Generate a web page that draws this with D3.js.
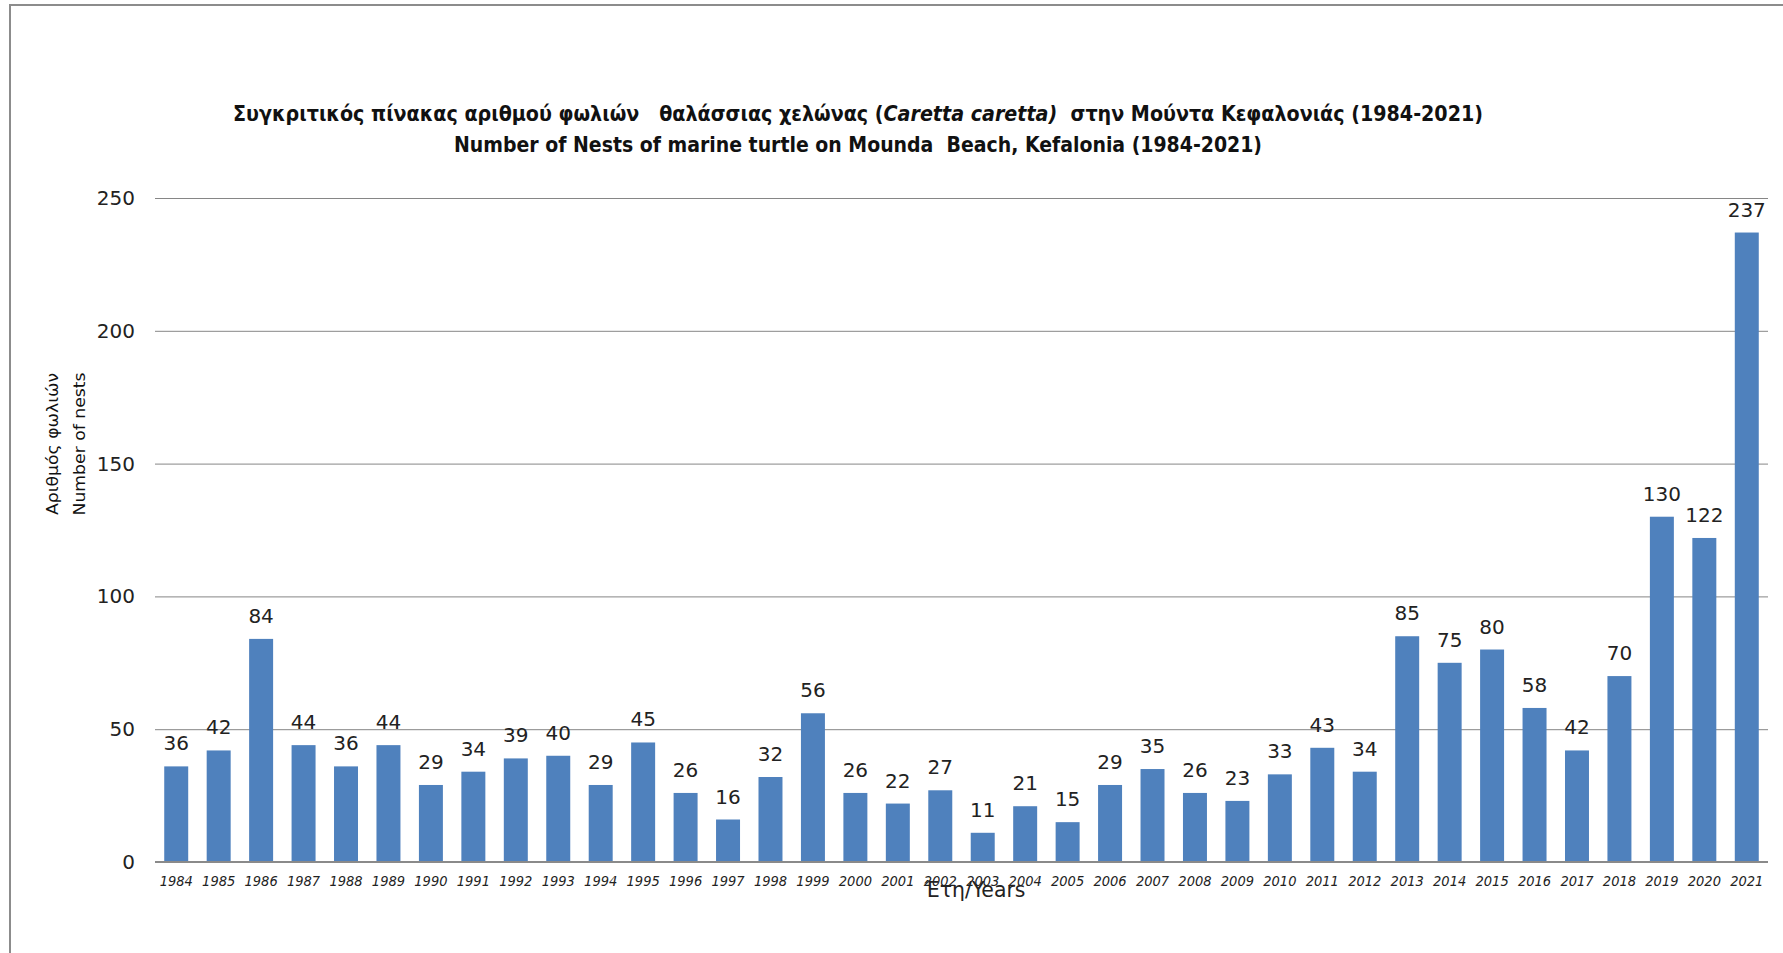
<!DOCTYPE html>
<html>
<head>
<meta charset="utf-8">
<script src="https://cdn.jsdelivr.net/npm/d3@7"></script>
<style>
  body { margin: 0; background: #fff; }
  svg { display: block; }
</style>
</head>
<body>
<div id="chart"></div>
<script>
var years = ["1984","1985","1986","1987","1988","1989","1990","1991","1992","1993",
  "1994","1995","1996","1997","1998","1999","2000","2001","2002","2003","2004","2005",
  "2006","2007","2008","2009","2010","2011","2012","2013","2014","2015","2016","2017",
  "2018","2019","2020","2021"];
var nests = [36,42,84,44,36,44,29,34,39,40,29,45,26,16,32,56,26,22,27,11,21,15,
  29,35,26,23,33,43,34,85,75,80,58,42,70,130,122,237];
var yTicks = [0,50,100,150,200,250];

var W = 1783, H = 953;
var cond = "'DejaVu Sans Condensed', 'DejaVu Sans', sans-serif";

var svg = d3.select("#chart").append("svg")
  .attr("width", W)
  .attr("height", H)
  .style("background", "#fff");

// outer frame (top and left edges visible)
svg.append("path")
  .attr("d", "M10," + H + "V5H" + W)
  .attr("fill", "none")
  .attr("stroke", "#8c8c8c")
  .attr("stroke-width", 2);

var x = d3.scaleBand().domain(years).range([155, 1768])
  .paddingInner(0.435).paddingOuter(0.2175);
var y = d3.scaleLinear().domain([0, 250]).range([862, 198]);

// gridlines + y labels
var yAxis = d3.axisLeft(y).tickValues(yTicks).tickSize(-(1768 - 155)).tickPadding(20);
var gy = svg.append("g").attr("transform", "translate(155,0)").call(yAxis);
gy.select(".domain").remove();
gy.selectAll(".tick line").attr("stroke", "#868686").attr("stroke-width", 1);
gy.selectAll(".tick text")
  .attr("x", -20)
  .style("font-family", "'DejaVu Sans', sans-serif")
  .style("font-size", "20px")
  .attr("fill", "#222");

// bars
svg.append("g").selectAll("rect")
  .data(nests)
  .join("rect")
  .attr("x", function(d, i) { return x(years[i]); })
  .attr("y", function(d) { return y(d); })
  .attr("width", x.bandwidth())
  .attr("height", function(d) { return y(0) - y(d); })
  .attr("fill", "#4f81bd");

// data labels
svg.append("g").selectAll("text")
  .data(nests)
  .join("text")
  .attr("x", function(d, i) { return x(years[i]) + x.bandwidth() / 2; })
  .attr("y", function(d) { return y(d) - 16; })
  .attr("text-anchor", "middle")
  .style("font-family", "'DejaVu Sans', sans-serif")
  .style("font-size", "20px")
  .attr("fill", "#222")
  .text(function(d) { return d; });

// baseline
svg.append("line")
  .attr("x1", 155).attr("x2", 1768)
  .attr("y1", y(0)).attr("y2", y(0))
  .attr("stroke", "#8a8a8a").attr("stroke-width", 2);

// x labels
var xAxis = d3.axisBottom(x).tickSize(0).tickPadding(14);
var gx = svg.append("g").attr("transform", "translate(0," + y(0) + ")").call(xAxis);
gx.select(".domain").remove();
gx.selectAll(".tick text")
  .style("font-family", cond)
  .style("font-style", "italic")
  .style("font-size", "14.5px")
  .attr("fill", "#222");

// x axis title
svg.append("text")
  .attr("x", 975).attr("y", 897)
  .attr("text-anchor", "middle")
  .attr("textLength", 101).attr("lengthAdjust", "spacingAndGlyphs")
  .style("font-family", cond)
  .style("font-size", "22px")
  .attr("fill", "#222")
  .text("Έτη/Years");

// y axis title (two lines)
var yt = svg.append("g").attr("transform", "translate(66,444) rotate(-90)");
yt.append("text").attr("y", -8)
  .attr("text-anchor", "middle")
  .attr("textLength", 142).attr("lengthAdjust", "spacingAndGlyphs")
  .style("font-family", cond).style("font-size", "16px").attr("fill", "#111")
  .text("Αριθμός φωλιών");
yt.append("text").attr("y", 19)
  .attr("text-anchor", "middle")
  .attr("textLength", 143).attr("lengthAdjust", "spacingAndGlyphs")
  .style("font-family", cond).style("font-size", "16px").attr("fill", "#111")
  .text("Number of nests");

// titles
var t1 = svg.append("text")
  .attr("x", 858).attr("y", 121)
  .attr("text-anchor", "middle")
  .attr("textLength", 1250).attr("lengthAdjust", "spacingAndGlyphs")
  .style("white-space", "pre")
  .style("font-family", cond).style("font-weight", "bold").style("font-size", "22px")
  .attr("fill", "#111");
t1.append("tspan").text("Συγκριτικός πίνακας αριθμού φωλιών   θαλάσσιας χελώνας (");
t1.append("tspan").style("font-style", "italic").text("Caretta caretta)");
t1.append("tspan").text("  στην Μούντα Κεφαλονιάς (1984-2021)");

svg.append("text")
  .attr("x", 858).attr("y", 152)
  .attr("text-anchor", "middle")
  .attr("textLength", 808).attr("lengthAdjust", "spacingAndGlyphs")
  .style("white-space", "pre")
  .style("font-family", cond).style("font-weight", "bold").style("font-size", "22px")
  .attr("fill", "#111")
  .text("Number of Nests of marine turtle on Mounda  Beach, Kefalonia (1984-2021)");
</script>
</body>
</html>
